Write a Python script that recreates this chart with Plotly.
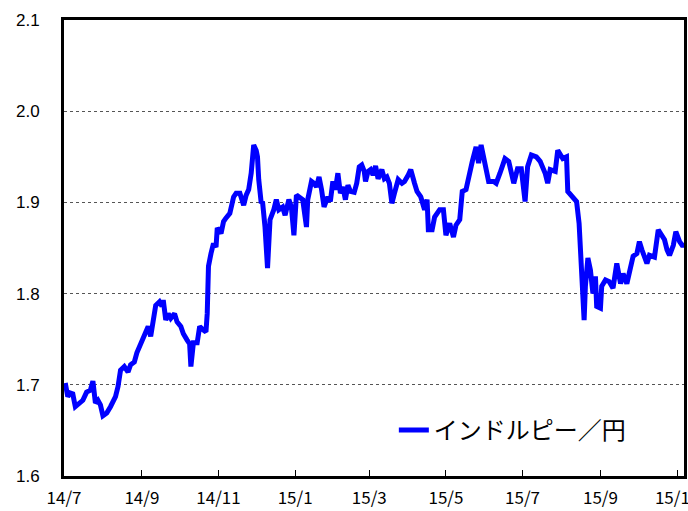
import pandas as pd
import plotly.graph_objects as go

# Series: India rupee / Japanese yen, days counted from 2014-07-01
start_date = "2014-07-01"
day_offsets = [
    1, 3, 5, 7, 9, 13, 15, 18, 21, 23, 24, 25, 27, 29, 31, 34, 37, 39, 41, 43,
    45, 48, 51, 53, 56, 58, 60, 63, 65, 67, 69, 71, 73, 76, 78, 79, 81, 83, 85, 88,
    90, 93, 95, 98, 100, 101, 103, 106, 108, 111, 113, 114, 115, 117, 119, 121, 122, 125, 127, 129,
    132, 135, 137, 140, 143, 145, 147, 149, 151, 153, 154, 155, 157, 158, 160, 162, 164, 167, 169, 171,
    174, 176, 179, 181, 183, 185, 188, 190, 193, 194, 197, 199, 201, 203, 205, 207, 210, 212, 214, 216,
    218, 220, 222, 224, 226, 228, 231, 233, 235, 237, 239, 240, 242, 244, 246, 248, 250, 252, 253, 255,
    257, 259, 261, 263, 266, 269, 271, 274, 276, 279, 281, 284, 287, 289, 290, 293, 295, 299, 302, 304,
    307, 310, 312, 315, 317, 320, 323, 325, 328, 330, 332, 335, 338, 342, 344, 347, 351, 354, 358, 361,
    364, 367, 369, 372, 376, 379, 383, 385, 387, 391, 393, 397, 400, 401, 405, 408, 410, 412, 414, 415,
    417, 419, 421, 423, 424, 427, 428, 431, 434, 437, 440, 443, 445, 448, 451, 453, 456, 458, 460, 464,
    466, 470, 473, 475, 478, 480, 482, 485, 487, 490, 492, 495,
]
inr_jpy = [
    1.702, 1.687, 1.691, 1.690, 1.676, 1.680, 1.683, 1.692, 1.694, 1.704, 1.691, 1.680, 1.683, 1.678, 1.666, 1.669, 1.676, 1.683, 1.687, 1.698,
    1.716, 1.720, 1.714, 1.722, 1.725, 1.735, 1.742, 1.749, 1.756, 1.764, 1.753, 1.767, 1.787, 1.791, 1.786, 1.793, 1.771, 1.778, 1.773, 1.778,
    1.769, 1.764, 1.756, 1.749, 1.745, 1.720, 1.746, 1.746, 1.764, 1.760, 1.758, 1.778, 1.830, 1.844, 1.855, 1.851, 1.872, 1.866, 1.879, 1.883,
    1.888, 1.906, 1.910, 1.910, 1.897, 1.908, 1.914, 1.932, 1.963, 1.957, 1.950, 1.925, 1.899, 1.901, 1.873, 1.828, 1.881, 1.892, 1.903, 1.892,
    1.895, 1.886, 1.903, 1.895, 1.864, 1.908, 1.904, 1.903, 1.873, 1.903, 1.923, 1.921, 1.917, 1.928, 1.914, 1.895, 1.906, 1.901, 1.923, 1.914,
    1.932, 1.910, 1.917, 1.903, 1.919, 1.912, 1.911, 1.921, 1.939, 1.941, 1.934, 1.923, 1.934, 1.936, 1.930, 1.940, 1.926, 1.932, 1.936, 1.926,
    1.928, 1.921, 1.899, 1.910, 1.925, 1.921, 1.923, 1.930, 1.936, 1.921, 1.912, 1.906, 1.892, 1.903, 1.870, 1.870, 1.884, 1.892, 1.892, 1.864,
    1.877, 1.862, 1.875, 1.881, 1.912, 1.914, 1.936, 1.945, 1.961, 1.943, 1.963, 1.943, 1.923, 1.923, 1.921, 1.932, 1.948, 1.945, 1.921, 1.937,
    1.937, 1.901, 1.939, 1.952, 1.950, 1.945, 1.932, 1.921, 1.936, 1.934, 1.957, 1.948, 1.950, 1.912, 1.906, 1.901, 1.877, 1.815, 1.771, 1.808,
    1.839, 1.826, 1.800, 1.819, 1.786, 1.784, 1.808, 1.815, 1.813, 1.806, 1.833, 1.811, 1.822, 1.811, 1.828, 1.841, 1.844, 1.857, 1.848, 1.833,
    1.842, 1.840, 1.870, 1.866, 1.859, 1.848, 1.842, 1.853, 1.868, 1.857, 1.853, 1.853,
]
series_name = "インドルピー／円"

tick_dates = ["2014-07-01", "2014-09-01", "2014-11-01", "2015-01-01", "2015-03-01",
              "2015-05-01", "2015-07-01", "2015-09-01", "2015-11-01"]
tick_labels = ["14/7", "14/9", "14/11", "15/1", "15/3", "15/5", "15/7", "15/9", "15/11"]
x_range = ["2014-07-01", "2015-11-06 12:00"]
y_ticks = [1.6, 1.7, 1.8, 1.9, 2.0, 2.1]

dates = pd.to_datetime(start_date) + pd.to_timedelta(day_offsets, unit="D")

fig = go.Figure()
fig.add_trace(go.Scatter(
    x=dates, y=inr_jpy, mode="lines", name=series_name,
    line=dict(color="#0000FF", width=5),
))

fig.update_layout(
    width=688, height=511,
    margin=dict(l=64, r=4, t=20, b=35, autoexpand=False),
    paper_bgcolor="white", plot_bgcolor="white",
    showlegend=True,
    legend=dict(
        x=0.532, y=0.10, xanchor="left", yanchor="middle",
        bgcolor="rgba(0,0,0,0)",
        font=dict(family="Noto Sans CJK JP", size=24, color="black"),
    ),
    xaxis=dict(
        type="date", range=x_range,
        tickvals=tick_dates, ticktext=tick_labels,
        ticks="inside", ticklen=6, tickwidth=1, tickcolor="black",
        showgrid=False, zeroline=False,
        showline=True, linecolor="black", linewidth=3, mirror=True,
        tickfont=dict(family="Noto Sans CJK JP", size=17, color="black"),
        ticklabelstandoff=5, automargin=False, ticklabeloverflow="allow",
    ),
    yaxis=dict(
        range=[1.6, 2.1], tickvals=y_ticks, tickformat=".1f",
        ticks="outside", ticklen=18, tickcolor="rgba(0,0,0,0)",
        showgrid=True, gridcolor="#555555", griddash="dot", gridwidth=1,
        zeroline=False, automargin=False,
        showline=True, linecolor="black", linewidth=3, mirror=True,
        tickfont=dict(family="Liberation Sans", size=17, color="black"),
    ),
)

# Remove the default page margin so the 688x511 figure fills the window exactly
fig.write_html(
    "out.html",
    config={"displayModeBar": False},
    post_script="document.body.style.margin='0';document.body.style.overflow='hidden';",
)
